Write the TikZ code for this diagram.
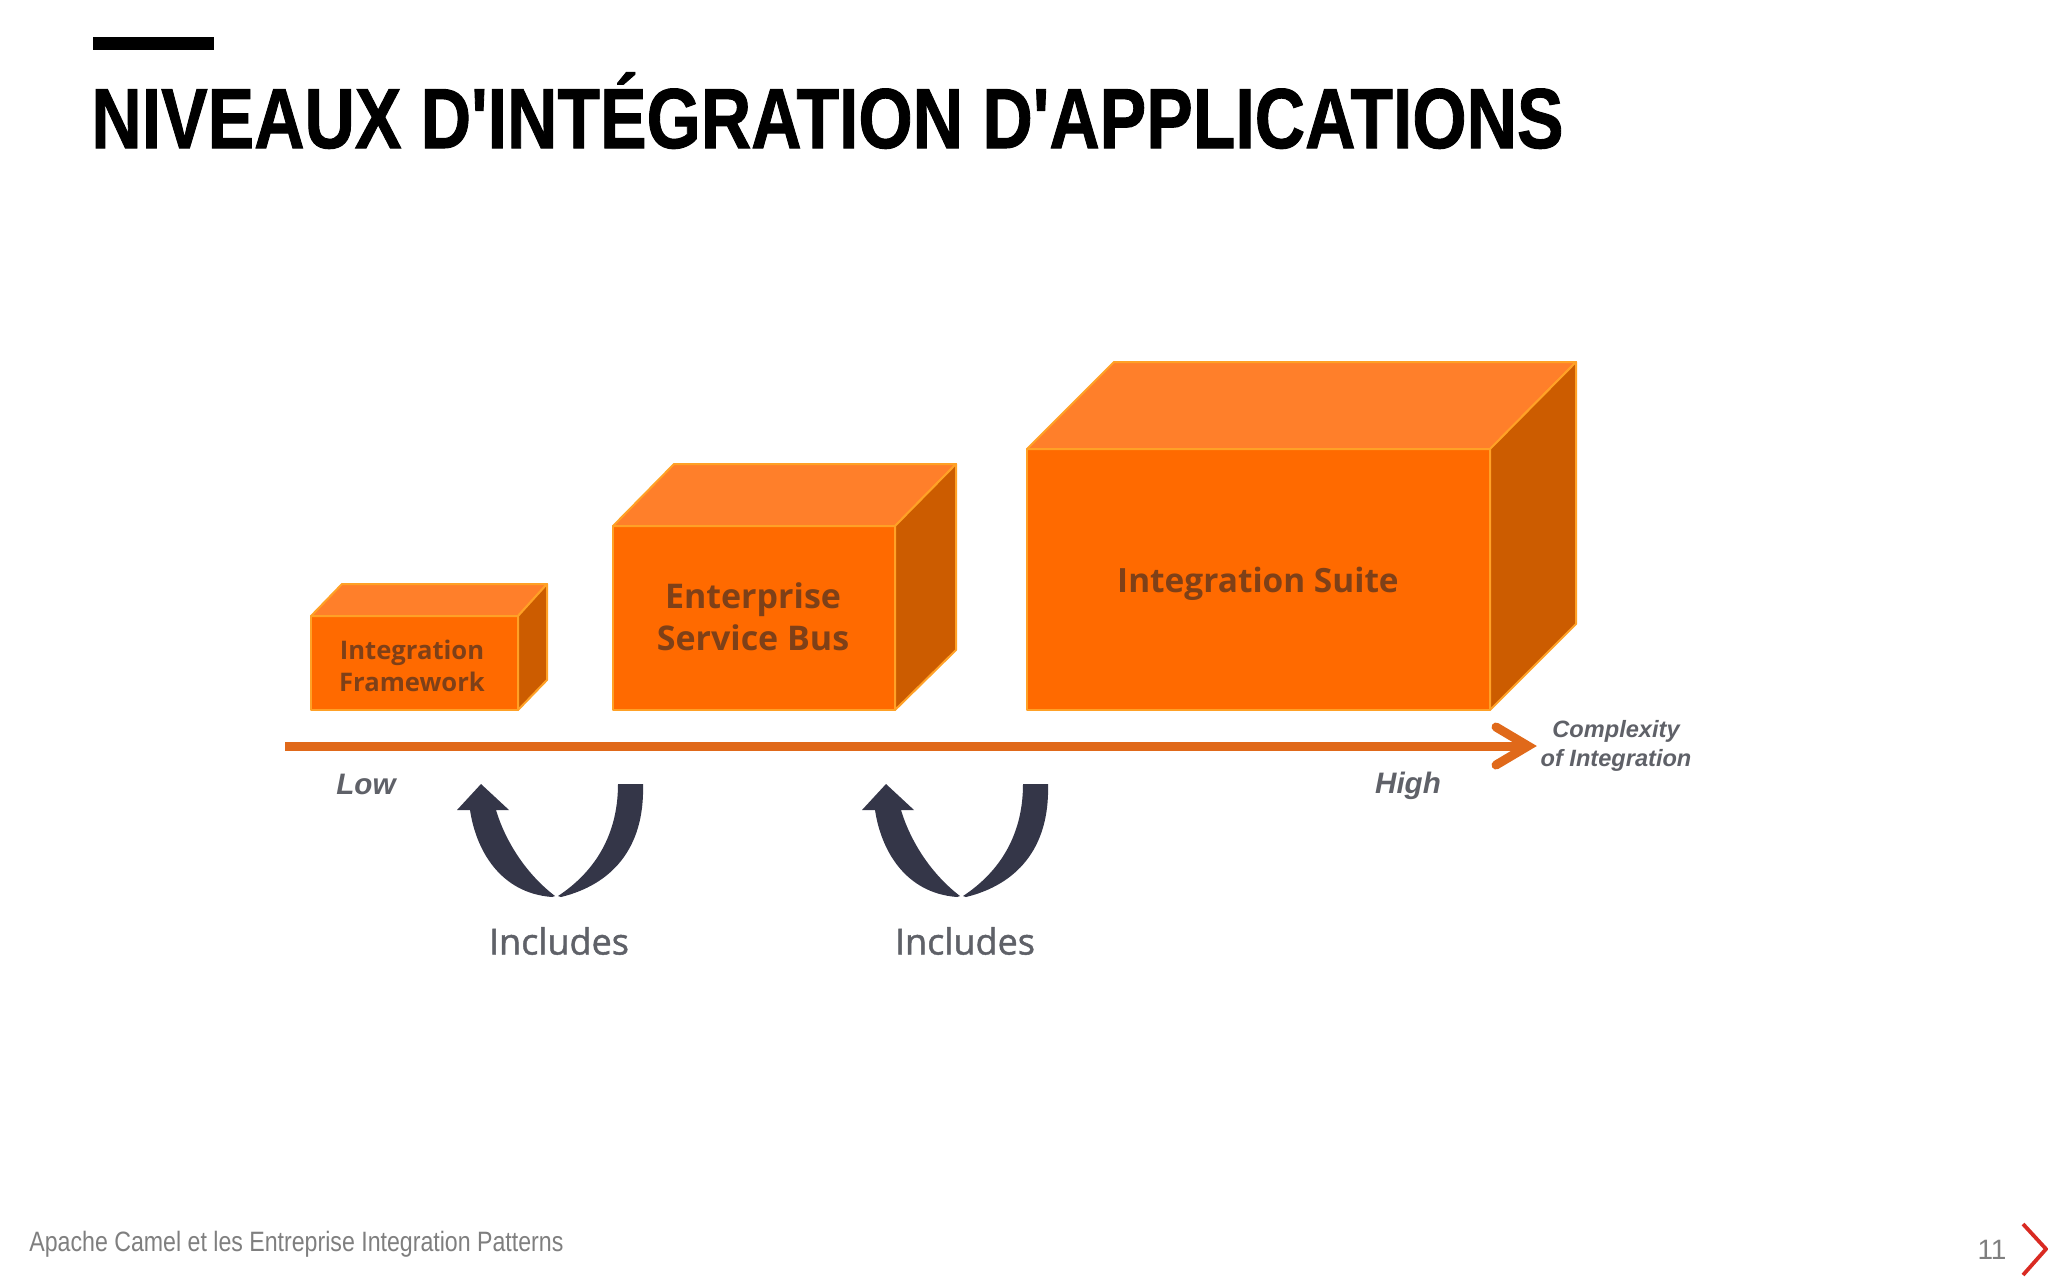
\documentclass[tikz,border=0pt]{standalone}
\usepackage{fontspec}
\usepackage{graphicx}
\setmainfont{Liberation Sans}
\newfontfamily\labelfont{Open Sans}
\newfontfamily\incfont[FakeBold=1.2]{Open Sans}
\newfontfamily\titlefont[FakeBold=1.2]{Liberation Sans Bold}
\definecolor{frontc}{HTML}{FF6A00}
\definecolor{topc}{HTML}{FF7F2A}
\definecolor{sidec}{HTML}{CC5C00}
\definecolor{edgec}{HTML}{FFA126}
\definecolor{axisc}{HTML}{E0691A}
\definecolor{navyc}{HTML}{343648}
\definecolor{boxtxt}{HTML}{7E4018}
\definecolor{greytxt}{HTML}{5F6168}
\definecolor{footc}{HTML}{7F7F7F}
\definecolor{redc}{HTML}{D92A22}
\tikzset{
  x=0.5pt,y=-0.5pt,
  facefront/.style={fill=frontc,draw=edgec,line width=1pt,line join=round},
  facetop/.style={fill=topc,draw=edgec,line width=1pt,line join=round},
  faceside/.style={fill=sidec,draw=edgec,line width=1pt,line join=round},
  boxlabel/.style={text=boxtxt,align=center,inner sep=0pt},
  axislabel/.style={text=greytxt,align=center,inner sep=0pt},
  inclabel/.style={font=\incfont\fontsize{18}{22}\selectfont,text=greytxt,inner sep=0pt},
  axisline/.style={draw=axisc,line width=4.5pt},
  chev/.style={draw=axisc,line width=4.5pt,line cap=round,line join=miter},
  uarrow/.style={fill=navyc,draw=none},
}
\begin{document}
\begin{tikzpicture}
\useasboundingbox (0,0) rectangle (2048,1280);
\fill[white] (0,0) rectangle (2048,1280);
% header
\fill[black] (93,37) rectangle (214,50);
\node[anchor=base west,inner sep=0pt] (title) at (91,148)
  {\resizebox{736pt}{\height}{\fontsize{42.6}{50}\titlefont NIVEAUX D\symbol{39}INTÉGRATION D\symbol{39}APPLICATIONS}};
% small box
\fill[facefront] (311,616) rectangle (518,710);
\draw[facetop] (311,616) -- (342,584) -- (547,584) -- (518,616) -- cycle;
\draw[faceside] (518,616) -- (547,584) -- (547,680) -- (518,710) -- cycle;
\node[boxlabel,font=\labelfont\bfseries\fontsize{12.8}{16.3}\selectfont] (fw) at (412,666) {Integration\\Framework};
% medium box
\fill[facefront] (613,526) rectangle (895,710);
\draw[facetop] (613,526) -- (674,464) -- (956,464) -- (895,526) -- cycle;
\draw[faceside] (895,526) -- (956,464) -- (956,650) -- (895,710) -- cycle;
\node[boxlabel,font=\labelfont\bfseries\fontsize{17}{21}\selectfont] (esb) at (753,617) {Enterprise\\Service Bus};
% large box
\fill[facefront] (1027,449) rectangle (1490,710);
\draw[facetop] (1027,449) -- (1114,362) -- (1576,362) -- (1490,449) -- cycle;
\draw[faceside] (1490,449) -- (1576,362) -- (1576,624) -- (1490,710) -- cycle;
\node[boxlabel,font=\labelfont\bfseries\fontsize{16.7}{21}\selectfont] (suite) at (1258,584) {Integration Suite};
% axis
\coordinate (axisstart) at (285,746);
\coordinate (axisend) at (1528,746);
\coordinate (chevtop) at (1496,727);
\coordinate (chevbot) at (1496,765);
\draw[axisline] (axisstart) -- (axisend);
\draw[chev] (chevtop) -- (axisend) -- (chevbot);
\node[axislabel,font=\bfseries\itshape\fontsize{11.8}{14.4}\selectfont] (cx) at (1616,746) {Complexity\\of Integration};
\node[axislabel,font=\bfseries\itshape\fontsize{14.8}{16}\selectfont] (low) at (366,784) {Low};
\node[axislabel,font=\bfseries\itshape\fontsize{14.8}{16}\selectfont] (high) at (1408,786) {High};
% includes arrows
\foreach \dx in {0,405}{
\begin{scope}[xshift=\dx*0.5pt]
\fill[uarrow] (481,784) -- (457,810) -- (470,810)
  .. controls (476,850) and (500,893) .. (552,897)
  -- (555,896)
  .. controls (525,873) and (505,840) .. (496,810)
  -- (509,810) -- cycle;
\fill[uarrow] (618,784) -- (643,784)
  .. controls (645,850) and (610,885) .. (561,897)
  -- (558,896)
  .. controls (590,875) and (618,840) .. (618,784) -- cycle;
\end{scope}}
\node[inclabel] (inca) at (559,941) {Includes};
\node[inclabel] (incb) at (965,941) {Includes};
% footer
\node[anchor=base west,inner sep=0pt,text=footc] (foot) at (29,1251)
  {\resizebox{267pt}{\height}{\fontsize{14}{16}\selectfont Apache Camel et les Entreprise Integration Patterns}};
\node[text=footc,inner sep=0pt,font=\fontsize{14}{16}\selectfont] (page) at (1992,1250) {11};
\coordinate (ra) at (2023,1224);
\coordinate (rb) at (2046,1249);
\coordinate (rc) at (2023,1275);
\draw[redc,line width=1.9pt] (ra) -- (rb) -- (rc);
\end{tikzpicture}
\end{document}
